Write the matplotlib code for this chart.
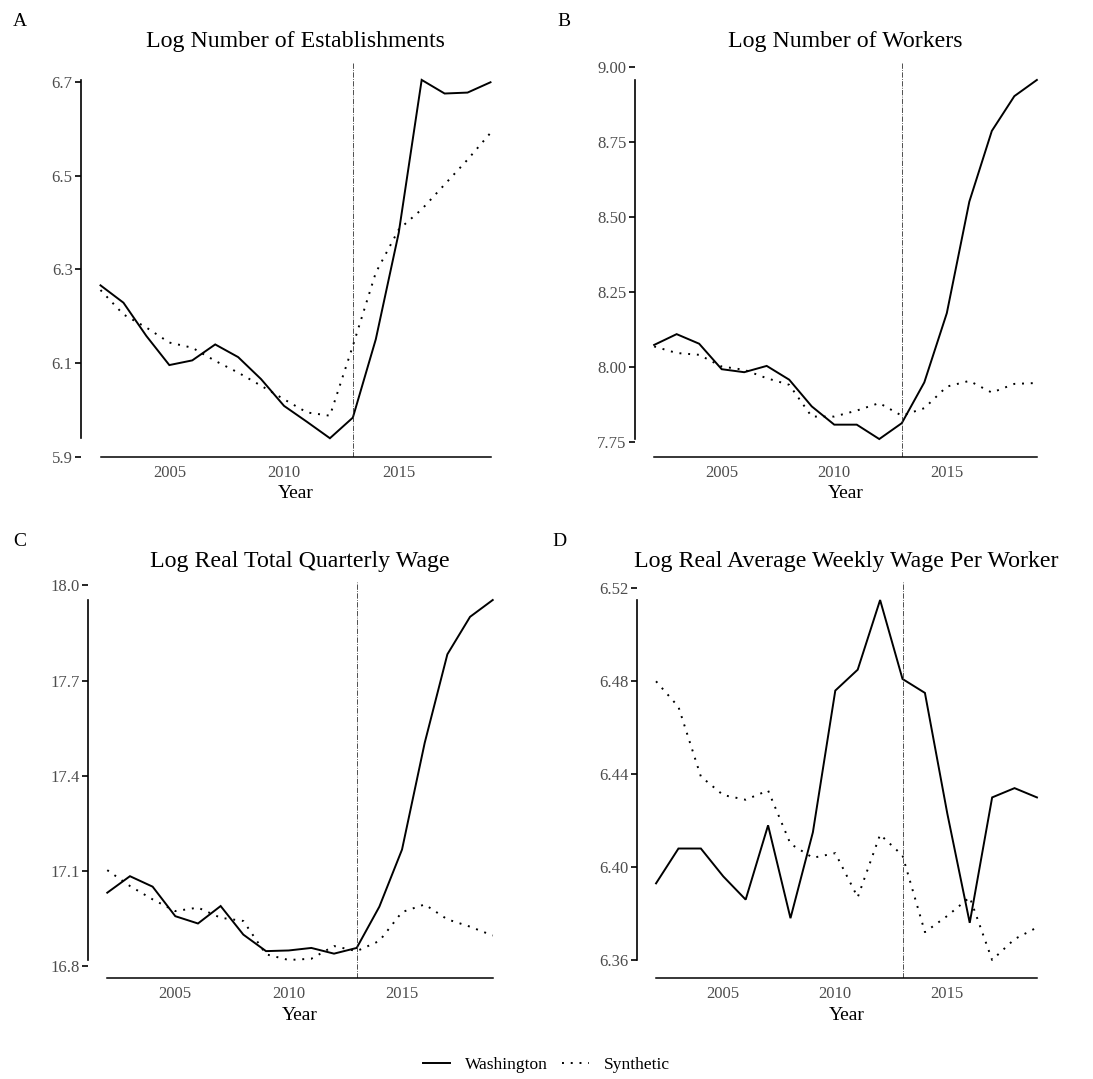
import numpy as np
import matplotlib.pyplot as plt
from matplotlib.lines import Line2D

plt.rcParams['font.family'] = ['Liberation Serif', 'DejaVu Serif']

years = np.arange(2002, 2020)

# Panel A: log number of establishments
est_wa = [6.266, 6.229, 6.158, 6.096, 6.106, 6.140, 6.113, 6.066, 6.009,
          5.975, 5.940, 5.984, 6.151, 6.378, 6.704, 6.675, 6.677, 6.699]
est_syn = [6.256, 6.204, 6.176, 6.144, 6.133, 6.105, 6.080, 6.052, 6.023,
           5.995, 5.988, 6.137, 6.293, 6.385, 6.428, 6.481, 6.534, 6.591]

# Panel B: log number of workers
wrk_wa = [8.074, 8.110, 8.078, 7.993, 7.983, 8.004, 7.958, 7.869, 7.808,
          7.808, 7.760, 7.813, 7.949, 8.180, 8.552, 8.788, 8.904, 8.958]
wrk_syn = [8.069, 8.047, 8.041, 8.002, 7.991, 7.963, 7.941, 7.835, 7.835,
           7.855, 7.880, 7.838, 7.863, 7.935, 7.954, 7.915, 7.944, 7.947]

# Panel C: log real total quarterly wage
tot_wa = [17.032, 17.084, 17.051, 16.958, 16.935, 16.990, 16.900, 16.848, 16.850,
          16.858, 16.840, 16.858, 16.988, 17.168, 17.504, 17.783, 17.901, 17.954]
tot_syn = [17.103, 17.053, 17.011, 16.974, 16.985, 16.953, 16.943, 16.838, 16.820,
           16.824, 16.864, 16.848, 16.880, 16.971, 16.995, 16.948, 16.925, 16.897]

# Panel D: log real average weekly wage per worker
wk_wa = [6.393, 6.408, 6.408, 6.396, 6.386, 6.418, 6.378, 6.415, 6.476,
         6.485, 6.515, 6.481, 6.475, 6.423, 6.376, 6.430, 6.434, 6.430]
wk_syn = [6.480, 6.469, 6.439, 6.431, 6.429, 6.433, 6.410, 6.404, 6.406,
          6.387, 6.414, 6.405, 6.372, 6.379, 6.387, 6.360, 6.369, 6.374]

panels = [
    ("A", "Log Number of Establishments", est_wa, est_syn, [5.9, 6.1, 6.3, 6.5, 6.7], "{:.1f}"),
    ("B", "Log Number of Workers", wrk_wa, wrk_syn, [7.75, 8.00, 8.25, 8.50, 8.75, 9.00], "{:.2f}"),
    ("C", "Log Real Total Quarterly Wage", tot_wa, tot_syn, [16.8, 17.1, 17.4, 17.7, 18.0], "{:.1f}"),
    ("D", "Log Real Average Weekly Wage Per Worker", wk_wa, wk_syn, [6.36, 6.40, 6.44, 6.48, 6.52], "{:.2f}"),
]

W, H = 1093, 1079
# panel boxes in pixels: left, top, right, bottom
boxes = [(81, 62, 510, 457), (635, 62, 1056, 457),
         (88, 582, 512, 978), (637, 582, 1056, 978)]
label_pos = [(13, 21), (557, 21), (13, 541), (552, 541)]

fig = plt.figure(figsize=(W / 100, H / 100), dpi=100)

for (lab, title, wa, syn, yt, fmt), (l, t, r, b), (lx, ly) in zip(panels, boxes, label_pos):
    ax = fig.add_axes([l / W, 1 - b / H, (r - l) / W, (b - t) / H])
    ax.plot(years, wa, color='black', lw=1.4, solid_joinstyle='miter')
    ax.plot(years, syn, color='black', lw=1.4, linestyle=(0, (1, 3.5)))
    ax.axvline(2013, color='#333333', lw=0.6, linestyle='-.')
    allv = np.concatenate([wa, syn])
    lo, hi = allv.min(), allv.max()
    pad = 0.05 * (hi - lo)
    ax.set_ylim(lo - pad, hi + pad)
    ax.set_xlim(2002 - 0.85, 2019 + 0.85)
    ax.spines['top'].set_visible(False)
    ax.spines['right'].set_visible(False)
    ax.spines['left'].set_bounds(lo, hi)
    ax.spines['bottom'].set_bounds(2002, 2019)
    ax.spines['left'].set_linewidth(1.2)
    ax.spines['bottom'].set_linewidth(1.1)
    ax.set_yticks(yt)
    ax.set_yticklabels([fmt.format(v) for v in yt])
    ax.set_xticks([2005, 2010, 2015])
    ax.tick_params(axis='y', length=4, width=1.2, colors='black', labelcolor='#4D4D4D',
                   labelsize=12, pad=2)
    ax.tick_params(axis='x', length=0, labelcolor='#4D4D4D', labelsize=12, pad=6)
    ax.set_xlabel('Year', fontsize=14, labelpad=3)
    ax.set_title(title, fontsize=17.2, pad=11)
    fig.text(lx / W, 1 - ly / H, lab, fontsize=14, ha='left', va='center')

handles = [Line2D([], [], color='black', lw=1.4),
           Line2D([], [], color='black', lw=1.4, linestyle=(0, (1, 3.5)))]
fig.legend(handles, ['Washington', 'Synthetic'], loc='center', ncol=2,
           bbox_to_anchor=(0.5, 1 - 1065 / H), frameon=False, fontsize=12.5,
           handlelength=1.55, columnspacing=0.8, handletextpad=0.85)

fig.savefig('out.png', dpi=100)
